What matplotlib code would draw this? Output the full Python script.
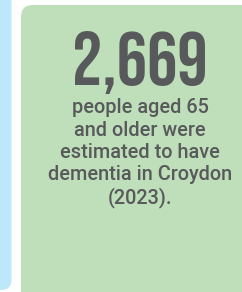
import matplotlib
matplotlib.use("Agg")
import matplotlib.pyplot as plt
from matplotlib.patches import FancyBboxPatch

headline_value = "2,669"
caption_lines = [
    "people aged 65",
    "and older were",
    "estimated to have",
    "dementia in Croydon",
    "(2023).",
]

green = "#bedfba"
blue = "#bde8f9"
text_grey = "#58595b"

fig = plt.figure(figsize=(2.42, 2.92), dpi=100)
ax = fig.add_axes([0, 0, 1, 1])
ax.set_xlim(0, 242)
ax.set_ylim(292, 0)
ax.axis("off")

# neighbouring card, cut off at the left edge
ax.add_patch(FancyBboxPatch((-30, -20), 41.5, 310, boxstyle="round,pad=0,rounding_size=10",
                            facecolor=blue, edgecolor="none"))
# main card
ax.add_patch(FancyBboxPatch((21, 5), 250, 300, boxstyle="round,pad=0,rounding_size=12",
                            facecolor=green, edgecolor="none"))

ax.text(140, 85, headline_value, ha="center", va="baseline", color=text_grey,
        fontsize=54.5, family="Bebas Neue")

y0 = 113
for i, line in enumerate(caption_lines):
    ax.text(140, y0 + i * 22.5, line, ha="center", va="baseline", color=text_grey,
            fontsize=14.3, fontweight=500, family="Roboto")

fig.savefig("out.png", dpi=100)
